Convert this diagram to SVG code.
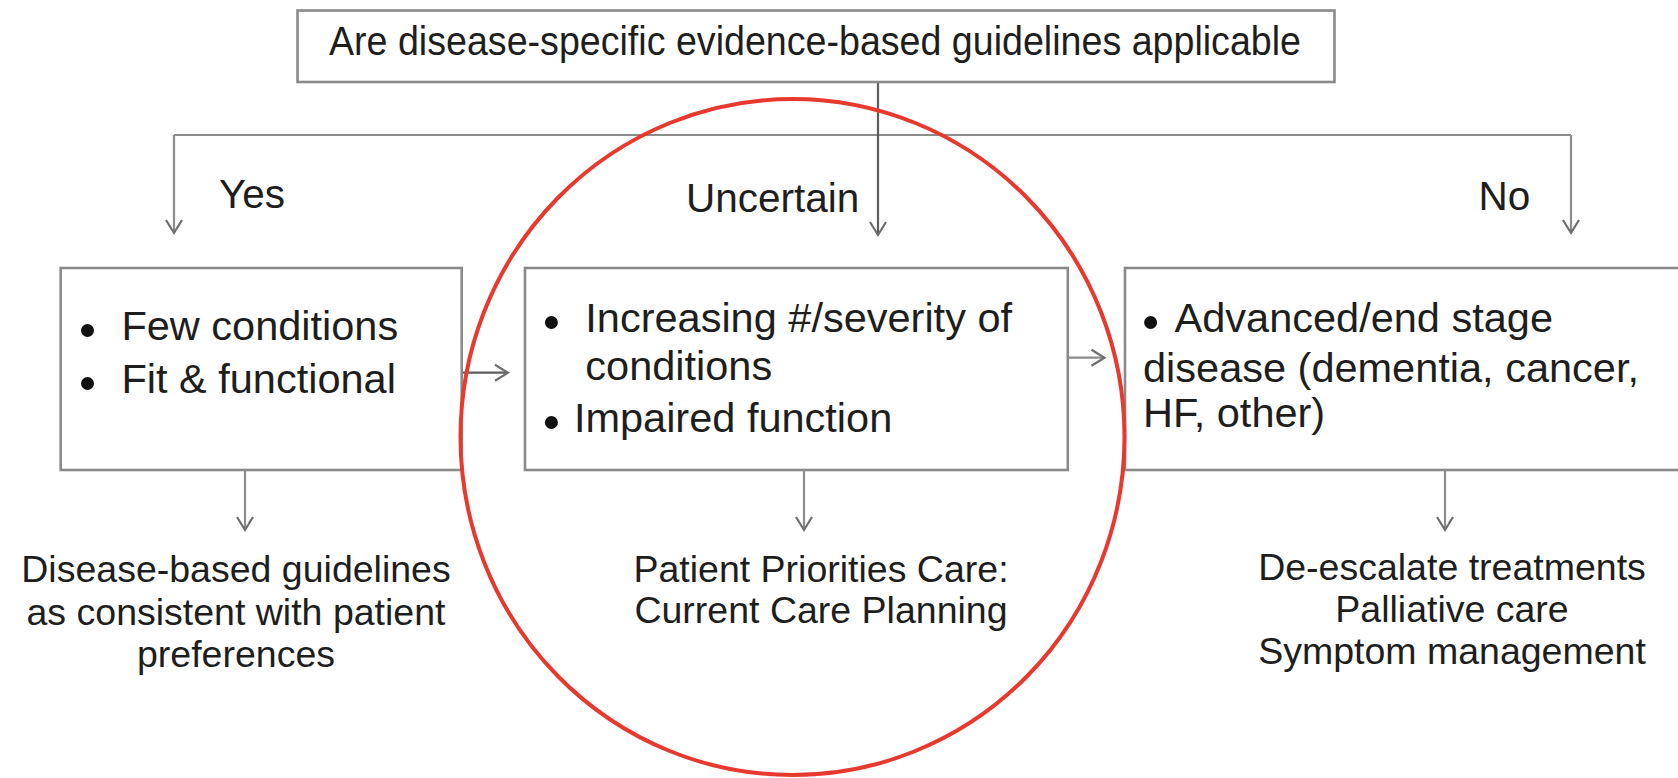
<svg xmlns="http://www.w3.org/2000/svg" width="1678" height="778" viewBox="0 0 1678 778">
  <style>
    .box { fill: #ffffff; stroke: #8a8a8a; stroke-width: 2.6; }
    .t { font-family: "Liberation Sans", Arial, sans-serif; fill: #1e1e1e; }
    .big { font-size: 41px; }
    .lbl { font-size: 40.5px; }
    .bt { font-size: 41.5px; }
    .out { font-size: 37.5px; text-anchor: middle; }
    .conn { fill: none; stroke: #8c8c8c; stroke-width: 2.2; }
    .dark { stroke: #5c5c5c; }
    .bul { fill: #111111; }
  </style>
  <defs>
    <marker id="arr" markerUnits="userSpaceOnUse" markerWidth="20" markerHeight="20" viewBox="-16 -10 18 20" refX="0" refY="0" orient="auto">
      <path d="M-13,-8 L0,0 L-13,8" fill="none" stroke="#6e6e6e" stroke-width="2.2"/>
    </marker>
  </defs>
  <rect width="1678" height="778" fill="#ffffff"/>

  <g id="connectors">
    <line class="conn" x1="174" y1="135" x2="1571" y2="135"/>
    <line class="conn" x1="174" y1="135" x2="174" y2="233" marker-end="url(#arr)"/>
    <line class="conn" x1="1571" y1="135" x2="1571" y2="233" marker-end="url(#arr)"/>
    <line class="conn dark" x1="878" y1="82" x2="878" y2="235" marker-end="url(#arr)"/>
    <line class="conn dark" x1="463" y1="372.7" x2="508" y2="372.7" marker-end="url(#arr)"/>
    <line class="conn" x1="1068" y1="357.7" x2="1104.5" y2="357.7" marker-end="url(#arr)"/>
    <line class="conn" x1="245" y1="470" x2="245" y2="530" marker-end="url(#arr)"/>
    <line class="conn" x1="804" y1="470" x2="804" y2="530" marker-end="url(#arr)"/>
    <line class="conn" x1="1445" y1="470" x2="1445" y2="530" marker-end="url(#arr)"/>
  </g>

  <g id="question">
    <rect class="box" x="297.5" y="10.5" width="1037" height="71.5"/>
    <text class="t big" x="329" y="55" textLength="972" lengthAdjust="spacingAndGlyphs">Are disease-specific evidence-based guidelines applicable</text>
  </g>

  <g id="label-yes"><text class="t lbl" x="219" y="208">Yes</text></g>
  <g id="label-uncertain"><text class="t lbl" x="686" y="211.7">Uncertain</text></g>
  <g id="label-no"><text class="t lbl" x="1478.5" y="210">No</text></g>

  <g id="box-yes">
    <rect class="box" x="60.7" y="268" width="401" height="202"/>
    <circle class="bul" cx="87.5" cy="330.5" r="6.5"/>
    <text class="t bt" x="121.4" y="340">Few conditions</text>
    <circle class="bul" cx="87.5" cy="383.5" r="6.5"/>
    <text class="t bt" x="121.4" y="393">Fit &amp; functional</text>
  </g>

  <g id="box-uncertain">
    <rect class="box" x="525" y="268" width="542.8" height="202"/>
    <circle class="bul" cx="551.4" cy="322.5" r="6.5"/>
    <text class="t bt" x="585.3" y="331.7">Increasing #/severity of</text>
    <text class="t bt" x="585.3" y="380">conditions</text>
    <circle class="bul" cx="551.4" cy="422.5" r="6.5"/>
    <text class="t bt" x="573.9" y="431.7">Impaired function</text>
  </g>

  <g id="box-no">
    <rect class="box" x="1125" y="268" width="600" height="202"/>
    <circle class="bul" cx="1150.6" cy="322.5" r="6.5"/>
    <text class="t bt" x="1174.6" y="331.7">Advanced/end stage</text>
    <text class="t bt" x="1143" y="381.7">disease (dementia, cancer,</text>
    <text class="t bt" x="1143" y="426.7">HF, other)</text>
  </g>

  <g id="outcome-yes">
    <text class="t out" x="236" y="582">Disease-based guidelines</text>
    <text class="t out" x="236" y="624.5">as consistent with patient</text>
    <text class="t out" x="236" y="667">preferences</text>
  </g>

  <g id="outcome-uncertain">
    <text class="t out" x="821" y="581.7">Patient Priorities Care:</text>
    <text class="t out" x="821" y="622.7">Current Care Planning</text>
  </g>

  <g id="outcome-no">
    <text class="t out" x="1452" y="580">De-escalate treatments</text>
    <text class="t out" x="1452" y="621.7">Palliative care</text>
    <text class="t out" x="1452" y="664">Symptom management</text>
  </g>

  <g id="highlight">
    <ellipse cx="792.5" cy="437" rx="332" ry="338" fill="none" stroke="#e8392f" stroke-width="4"/>
  </g>
</svg>
